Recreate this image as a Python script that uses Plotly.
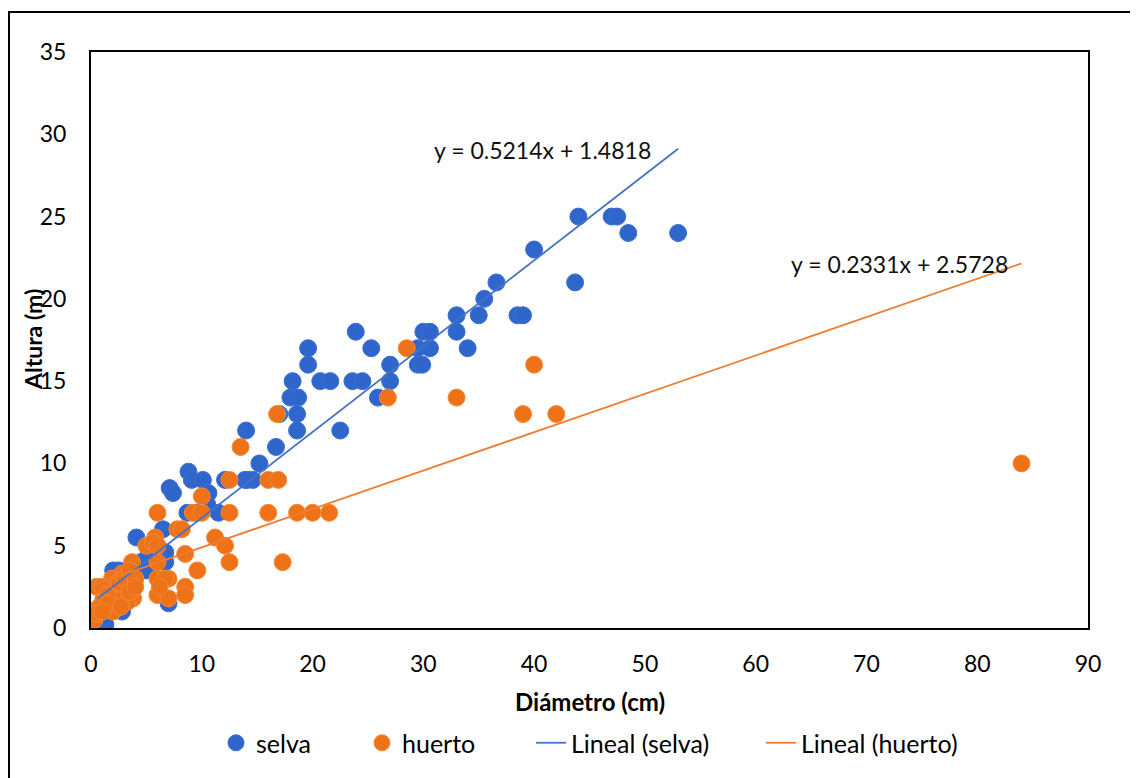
import plotly.graph_objects as go

# ---- data ----
selva_x = [53, 48.5, 47, 47.5, 44, 43.7, 40, 36.6, 35.5, 35, 38.5, 39, 33, 34, 33, 30, 30.6,
           29.5, 30.6, 29.5, 29.9, 27, 27, 25.9, 23.9, 25.3, 19.6, 19.6, 18.2, 20.7, 21.6, 23.6,
           24.5, 18, 18.7, 18.6, 17, 18.6, 14, 22.5, 16.7, 15.2, 14.1, 14.6, 8.8, 9.1, 10.1, 7.1,
           7.4, 10.6, 12.1, 13.9, 8.7, 11.5, 6.5, 4.1, 5.1, 6.7, 6.7, 2.5, 2.0, 7.0, 1.0, 0.6,
           1.3, 0.8, 1.0, 1.5, 2.2, 2.8, 3.0, 3.5, 4.5, 5.5, 6.0, 9.5, 10.5, 3.0, 1.8, 5.0, 4.0]
selva_y = [24, 24, 25, 25, 25, 21, 23, 21, 20, 19, 19, 19, 19, 17, 18, 18, 18,
           17, 17, 16, 16, 16, 15, 14, 18, 17, 17, 16, 15, 15, 15, 15,
           15, 14, 14, 13, 13, 12, 12, 12, 11, 10, 9, 9, 9.5, 9, 9, 8.5,
           8.2, 8.2, 9, 9, 7, 7, 6, 5.5, 4.3, 4.6, 4, 3.5, 3.5, 1.5, 0.3, 0.5,
           0.2, 0.1, 0.6, 1.2, 1.8, 1.0, 2.5, 3.0, 4.0, 4.0, 5.0, 7.0, 7.5, 1.5, 2.5, 3.5, 3.0]

huerto_x = [84, 40, 33, 39, 42, 28.5, 26.8, 16.8, 13.5, 16, 16.9, 12.5, 10, 16, 18.6, 20, 21.5,
            17.3, 12.5, 9.2, 10, 6, 7.8, 8.2, 11.2, 12.1, 5.8, 5.0, 5.6, 6.0, 8.5, 6.0, 3.7,
            12.5, 9.6, 6.0, 7.0, 8.5, 8.5, 6.0, 7.0, 2.0, 3.7, 3.2, 3.8, 2.4, 1.3, 1.1, 2.2,
            3.3, 0.4, 0.1, 0.8, 2.8, 1.9, 0.5, 1.0, 1.5, 2.5, 3.0, 3.5, 4.0, 0.3, 0.6, 1.5,
            2.7, 3.5, 4.0, 1.0, 6.7, 6.2]
huerto_y = [10, 16, 14, 13, 13, 17, 14, 13, 11, 9, 9, 9, 8, 7, 7, 7, 7,
            4, 7, 7, 7, 7, 6, 6, 5.5, 5, 5.5, 5, 5.2, 5, 4.5, 4, 4,
            4, 3.5, 3, 3, 2.5, 2, 2, 1.8, 1, 2.5, 2, 1.8, 2.3, 2.3, 1.7, 1.7,
            1.6, 1.1, 0.7, 1.3, 3.3, 3.0, 2.5, 2.5, 2.0, 2.8, 3.0, 3.5, 3.0, 0.5, 0.9, 1.5,
            1.3, 2.2, 2.5, 1.0, 3.0, 2.5]

selva_fit = (0.5214, 1.4818)
huerto_fit = (0.2331, 2.5728)
selva_eq = "y = 0.5214x + 1.4818"
huerto_eq = "y = 0.2331x + 2.5728"

x_ticks = [0, 10, 20, 30, 40, 50, 60, 70, 80, 90]
y_ticks = [0, 5, 10, 15, 20, 25, 30, 35]

BLUE_M = "#2F66CB"
ORANGE_M = "#EE7217"
BLUE_L = "#4472C4"
ORANGE_L = "#ED7D31"
FONT = "Lato, 'Open Sans', sans-serif"

def fit_line(xs, coef):
    x0, x1 = min(xs), max(xs)
    return [x0, x1], [coef[0] * x0 + coef[1], coef[0] * x1 + coef[1]]

fig = go.Figure()
fig.add_trace(go.Scatter(x=selva_x, y=selva_y, mode="markers", name="selva", legend="legend",
                         marker=dict(color=BLUE_M, size=17, line=dict(color="#3B6FD0", width=1))))
fig.add_trace(go.Scatter(x=huerto_x, y=huerto_y, mode="markers", name="huerto", legend="legend2",
                         marker=dict(color=ORANGE_M, size=17, line=dict(color="#F58A3A", width=1))))
lx, ly = fit_line(selva_x, selva_fit)
fig.add_trace(go.Scatter(x=lx, y=ly, mode="lines", name="Lineal (selva)", legend="legend3",
                         line=dict(color=BLUE_L, width=1.8)))
lx, ly = fit_line(huerto_x, huerto_fit)
fig.add_trace(go.Scatter(x=lx, y=ly, mode="lines", name="Lineal (huerto)", legend="legend4",
                         line=dict(color=ORANGE_L, width=1.8)))

fig.add_annotation(x=40.8, y=29.05, xref="x", yref="y", text=selva_eq, showarrow=False,
                   font=dict(size=23, color="#111", family=FONT))
fig.add_annotation(x=73.0, y=22.1, xref="x", yref="y", text=huerto_eq, showarrow=False,
                   font=dict(size=23, color="#111", family=FONT))

# axis titles
fig.add_annotation(x=0.5, y=(628 - 701) / 576, xref="paper", yref="paper", text="<b>Diámetro (cm)</b>",
                   showarrow=False, font=dict(size=24, color="#000", family=FONT), yanchor="middle")
fig.add_annotation(x=(33 - 91) / 997, y=(628 - 340) / 576, xref="paper", yref="paper", text="<b>Altura (m)</b>",
                   showarrow=False, textangle=-90, font=dict(size=23, color="#000", family=FONT),
                   xanchor="center", yanchor="middle")

# outer chart border (only left and top edges fall inside the picture)
fig.add_shape(type="rect", xref="paper", yref="paper",
              x0=(9 - 91) / 997, x1=(1160 - 91) / 997, y0=(628 - 800) / 576, y1=(628 - 12) / 576,
              line=dict(color="black", width=2), fillcolor="rgba(0,0,0,0)", layer="below")

leg_y = (628 - 743) / 576
def leg(px):
    return dict(orientation="h", x=(px - 91) / 997, xanchor="left", y=leg_y, yanchor="middle",
                font=dict(size=25, family=FONT, color="#000"), bgcolor="rgba(0,0,0,0)")

fig.update_layout(
    width=1138, height=778,
    margin=dict(l=83, r=58, t=44, b=158),
    paper_bgcolor="white", plot_bgcolor="white",
    font=dict(family=FONT, size=23, color="#000"),
    showlegend=True,
    legend=leg(216), legend2=leg(362), legend3=leg(531), legend4=leg(761),
)
fig.update_xaxes(range=[0, 90], tickvals=x_ticks, showgrid=False, zeroline=False,
                 showline=True, linecolor="black", linewidth=2, mirror=True, ticks="",
                 ticklabelstandoff=14, tickfont=dict(size=23, family=FONT))
fig.update_yaxes(range=[0, 35], tickvals=y_ticks, showgrid=False, zeroline=False,
                 showline=True, linecolor="black", linewidth=2, mirror=True, ticks="",
                 ticklabelstandoff=18, tickfont=dict(size=23, family=FONT))

fig.write_html("out.html")
